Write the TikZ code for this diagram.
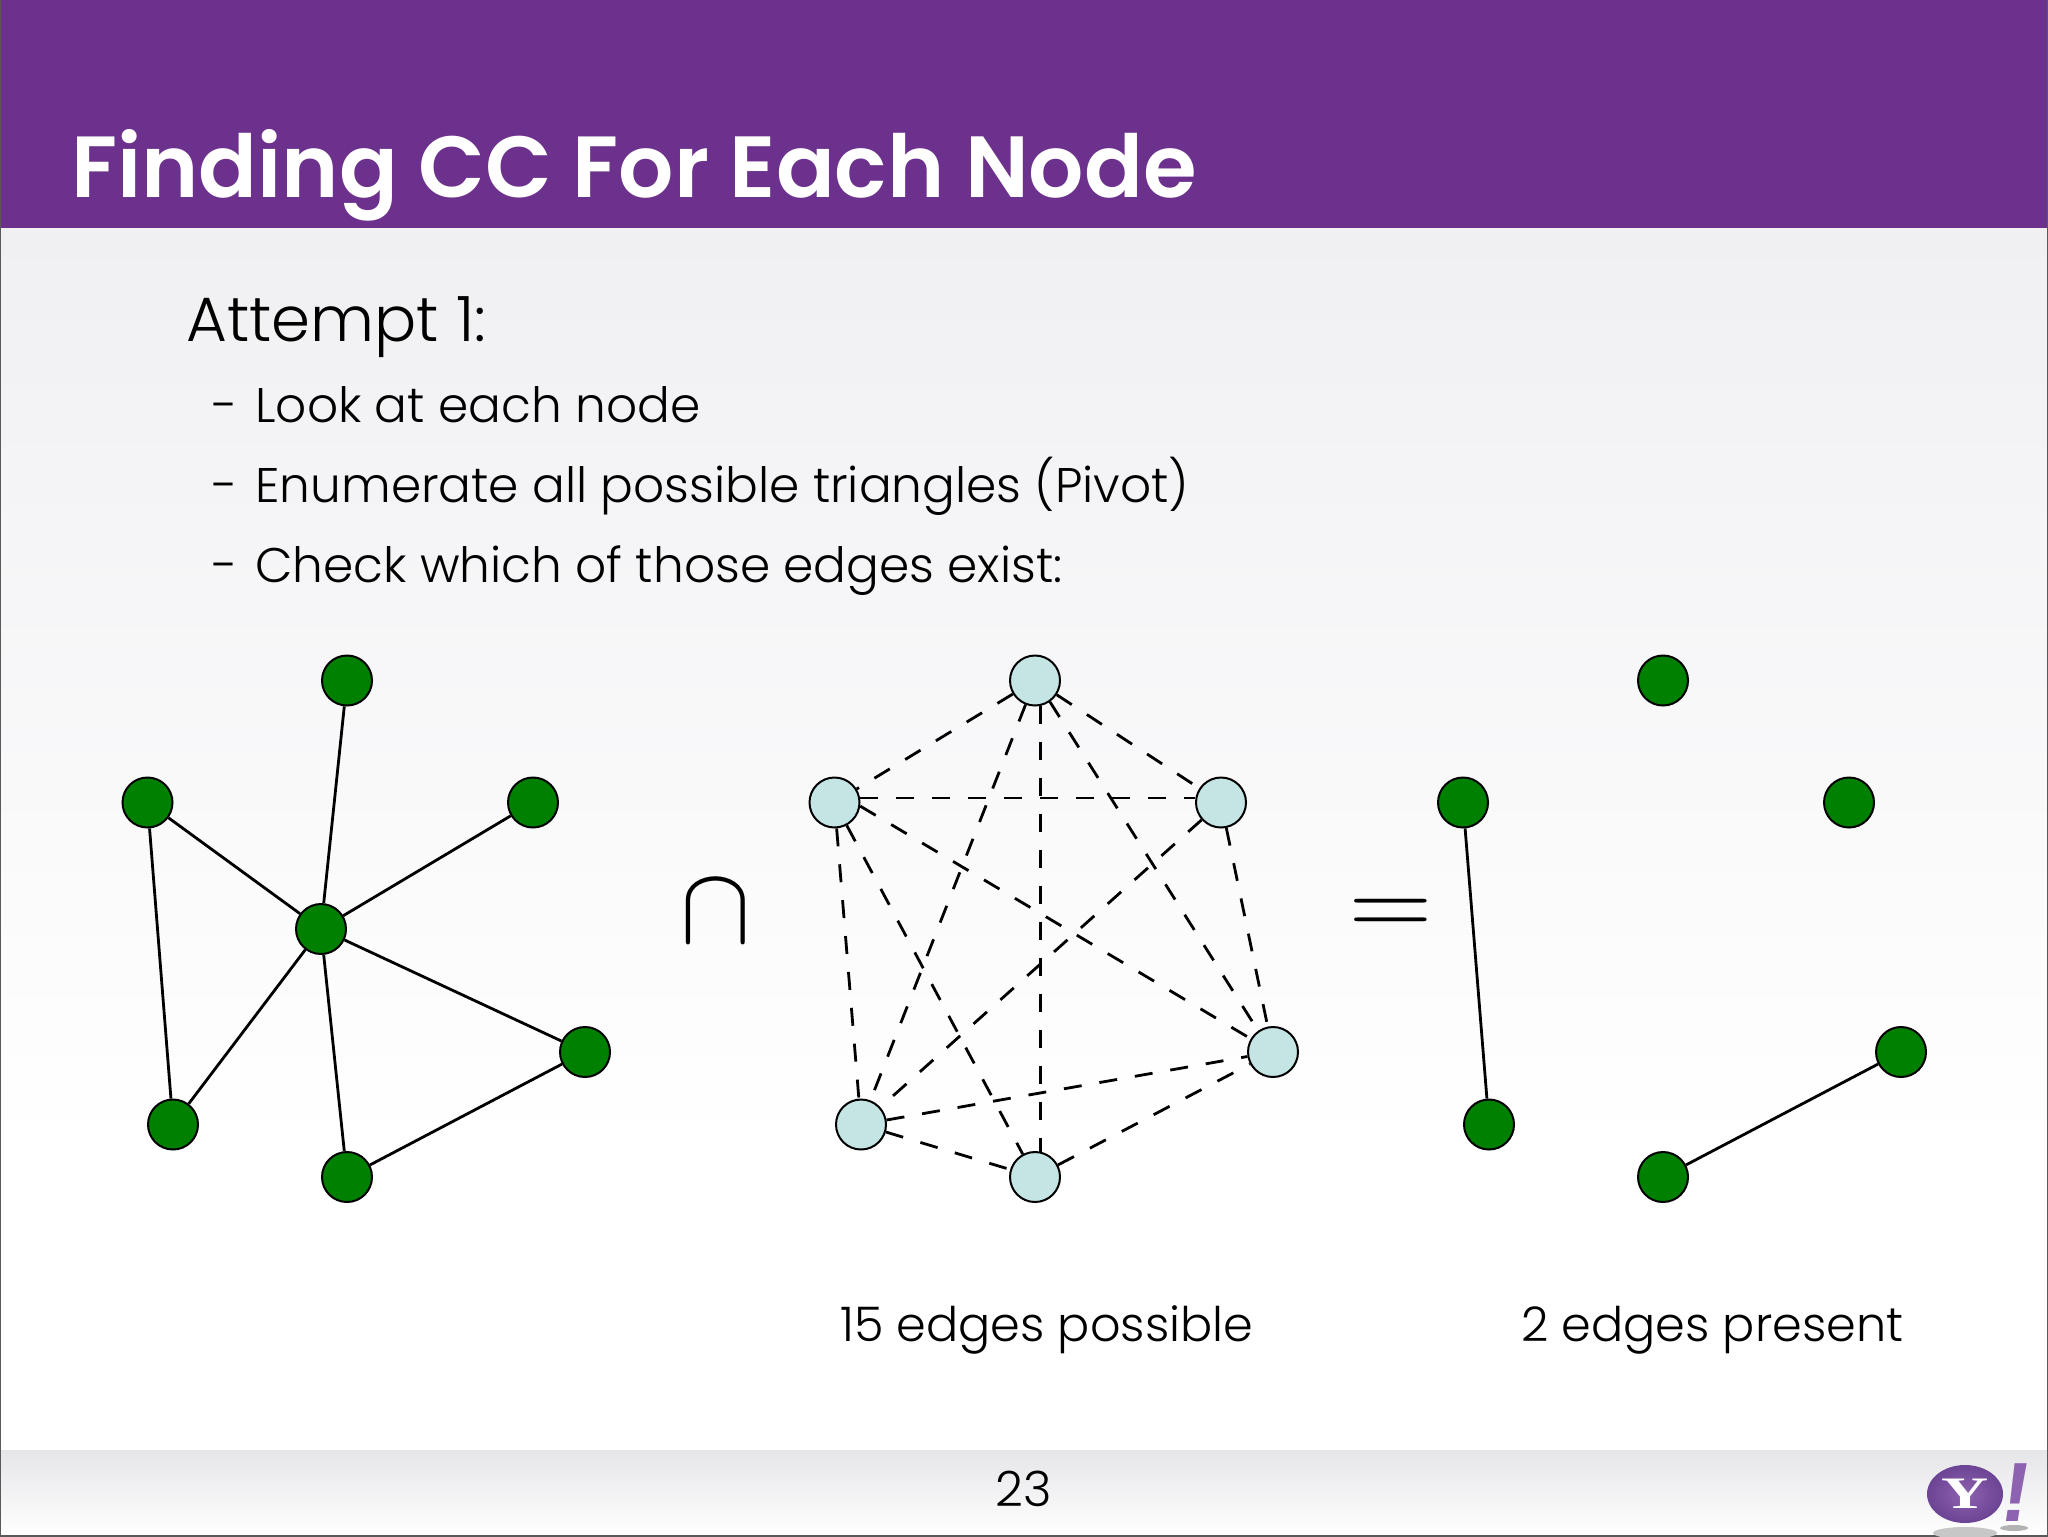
\documentclass[tikz,border=0pt]{standalone}
\usepackage{fontspec}
\setmainfont{Poppins}[UprightFont=* Light,BoldFont=* SemiBold]
\newfontfamily\logofont{Liberation Serif}[BoldFont=* Bold]
\newfontfamily\markfont{Liberation Sans}
\usepackage{tikz}
\definecolor{slidepurple}{HTML}{6C318C}
\definecolor{logopurple}{HTML}{8D62B0}
\definecolor{logodark}{HTML}{6C4494}
\definecolor{paletop}{HTML}{F0F0F3}
\definecolor{footertop}{HTML}{E6E6E9}
\definecolor{nodegreen}{HTML}{008000}
\definecolor{nodeblue}{HTML}{C5E4E4}
\tikzset{
  gnode/.style={circle,draw=black,line width=1pt,fill=nodegreen,minimum size=25pt,inner sep=0pt},
  pnode/.style={gnode,fill=nodeblue},
  edge/.style={line width=1.4pt,black},
  pedge/.style={line width=1.4pt,black,dash pattern=on 9pt off 9pt},
  body/.style={anchor=base west,inner sep=0pt,text=black},
}
\newcommand{\itemfont}{\fontsize{24.3}{29}\selectfont}
\newcommand{\labelfont}{\fontsize{23.85}{29}\selectfont}
\begin{document}
\begin{tikzpicture}[x=0.5pt,y=-0.5pt]
  \useasboundingbox (0,0) rectangle (2048,1536);
  \fill[white] (0,0) rectangle (2048,1536);
  \shade[top color=paletop,bottom color=white] (0,228) rectangle (2048,1150);%background
  \shade[top color=footertop,bottom color=white] (0,1450) rectangle (2048,1536);%footer
  \fill[slidepurple] (0,0) rectangle (2048,228);%header
  \draw[black!65,line width=1pt] (0,0)--(0,1536)--(2048,1536)--(2048,0);

  \node[body,text=white] (title) at (71,197) {\fontsize{43.4}{50}\selectfont\bfseries Finding CC For Each Node};
  \node[body] (attempt) at (186,341) {\fontsize{31.3}{38}\selectfont Attempt 1:};
  \node[body] (dashA) at (211,422) {\scalebox{0.76}[1]{\itemfont --}};
  \node[body] (itemA) at (255,422) {\itemfont Look at each node};
  \node[body] (dashB) at (211,502) {\scalebox{0.76}[1]{\itemfont --}};
  \node[body] (itemB) at (255,502) {\itemfont Enumerate all possible triangles (Pivot)};
  \node[body] (dashC) at (211,582) {\scalebox{0.76}[1]{\itemfont --}};
  \node[body] (itemC) at (255,582) {\itemfont Check which of those edges exist:};

  % graph
  \node[gnode] (T) at (347,680.5) {};
  \node[gnode] (L) at (147.5,802.5) {};
  \node[gnode] (R) at (533,802.5) {};
  \node[gnode] (C) at (321,929) {};
  \node[gnode] (LR) at (585,1052) {};
  \node[gnode] (LL) at (173,1124.5) {};
  \node[gnode] (B) at (347,1177) {};
  \draw[edge] (T)--(C);
  \draw[edge] (L)--(C);
  \draw[edge] (R)--(C);
  \draw[edge] (LR)--(C);
  \draw[edge] (LL)--(C);
  \draw[edge] (B)--(C);
  \draw[edge] (L)--(LL);
  \draw[edge] (B)--(LR);

  \node (capsign) at (716,912) {\scalebox{5.3}[5.5]{$\cap$}};

  % possible edges
  \node[pnode] (Tp) at (1035,680.5) {};
  \node[pnode] (Lp) at (834.5,802.5) {};
  \node[pnode] (Rp) at (1221,802.5) {};
  \node[pnode] (LRp) at (1273,1052) {};
  \node[pnode] (LLp) at (861,1124.5) {};
  \node[pnode] (Bp) at (1035,1177) {};
  \draw[pedge] (Tp)--(Lp);
  \draw[pedge] (Tp)--(Rp);
  \draw[pedge] (Tp)--(LLp);
  \draw[pedge] (Tp.-55)--(LRp.125);
  \draw[pedge] (Tp.-78)--(Bp.78);
  \draw[pedge] (Lp.10)--(Rp.170);
  \draw[pedge] (Lp.-8)--(LRp);
  \draw[pedge] (Lp)--(LLp);
  \draw[pedge] (Lp)--(Bp);
  \draw[pedge] (Rp)--(LLp);
  \draw[pedge] (Rp)--(LRp);
  \draw[pedge] (LLp)--(LRp);
  \draw[pedge] (LLp)--(Bp);
  \draw[pedge] (Bp)--(LRp);

  \node (eqsign) at (1391,916.5) {\scalebox{5.45}[4.8]{$=$}};

  % present edges
  \node[gnode] (Tq) at (1663,680.5) {};
  \node[gnode] (Lq) at (1463,802.5) {};
  \node[gnode] (Rq) at (1849,802.5) {};
  \node[gnode] (LRq) at (1901,1052) {};
  \node[gnode] (LLq) at (1489,1124.5) {};
  \node[gnode] (Bq) at (1663,1177) {};
  \draw[edge] (Lq)--(LLq);
  \draw[edge] (Bq)--(LRq);

  \node[body] (possible) at (840,1341) {\labelfont 15 edges possible};
  \node[body] (present) at (1521,1341) {\labelfont 2 edges present};
  \node[anchor=base,inner sep=0pt] (pagenum) at (1024,1506) {\itemfont 23};

  % logo
  \fill[black!22] (1965,1533) ellipse (32 and 6);
  \fill[black!30] (2014,1528) ellipse (14 and 3);
  \shade[inner color=logopurple,outer color=logodark] (1965,1494) ellipse (38 and 29);
  \node[text=white] (logoY) at (1965,1494) {\scalebox{1.45}[1]{\fontsize{22.5}{24}\selectfont\logofont\bfseries Y}};
  \node[text=logopurple,xslant=0.15] (logoMark) at (2017,1493) {\fontsize{42}{44}\selectfont\markfont\bfseries !};
\end{tikzpicture}
\end{document}
